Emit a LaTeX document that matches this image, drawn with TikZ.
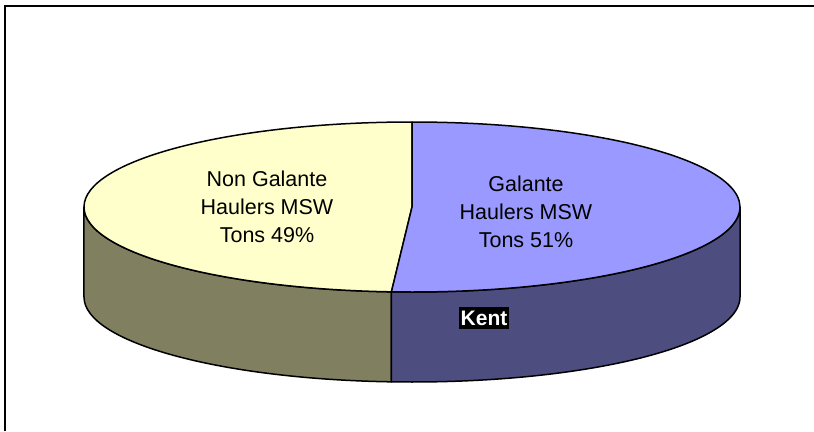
\documentclass[tikz,border=0pt]{standalone}
\usepackage{fontspec}
\setmainfont{Liberation Sans}
\usetikzlibrary{calc}
\definecolor{yellowtop}{HTML}{FFFFCC}
\definecolor{bluetop}{HTML}{9999FF}
\definecolor{oliveside}{HTML}{808060}
\definecolor{blueside}{HTML}{4D4D80}
\tikzset{
  pieline/.style={draw=black, line width=1.5bp, line join=round},
  slicelabel/.style={align=center, font=\fontsize{21.5bp}{27.8bp}\selectfont, text=black, inner sep=0pt},
  tagbox/.style={fill=black, text=white, font=\fontsize{21bp}{24bp}\selectfont\bfseries,
    inner xsep=1.5bp, inner ysep=4bp},
  framebox/.style={draw=black, line width=1.5bp}
}
\begin{document}
\begin{tikzpicture}[x=1bp,y=1bp]
\useasboundingbox (0,0) rectangle (814,431);
\fill[white] (0,0) rectangle (814,431);
% frame
\coordinate (FL) at (5,0);
\coordinate (FC) at (5,425);
\coordinate (FR) at (814,425);
\draw[framebox] (FL) -- (FC) -- (FR);
% pie geometry
\coordinate (C) at (412,224);
% sides
\path[pieline, fill=oliveside]
  ($(C)+(266.4:328bp and 85bp)$) arc[start angle=266.4, end angle=180, x radius=328bp, y radius=85bp]
  -- ++(0,-90) arc[start angle=180, end angle=266.4, x radius=328bp, y radius=85bp] -- cycle;
\path[pieline, fill=blueside]
  ($(C)+(266.4:328bp and 85bp)$) arc[start angle=266.4, end angle=360, x radius=328bp, y radius=85bp]
  -- ++(0,-90) arc[start angle=360, end angle=266.4, x radius=328bp, y radius=85bp] -- cycle;
% top slices
\path[pieline, fill=yellowtop]
  (C) -- ($(C)+(90:328bp and 85bp)$) arc[start angle=90, end angle=266.4, x radius=328bp, y radius=85bp] -- cycle;
\path[pieline, fill=bluetop]
  (C) -- ($(C)+(266.4:328bp and 85bp)$) arc[start angle=266.4, end angle=450, x radius=328bp, y radius=85bp] -- cycle;
% labels
\node[slicelabel] (lnon) at (267,224) {Non Galante\\Haulers MSW\\Tons 49\%};
\node[slicelabel] (lgal) at (526,219) {Galante\\Haulers MSW\\Tons 51\%};
\node[tagbox] (kent) at (484,113) {Kent};
\end{tikzpicture}
\end{document}
